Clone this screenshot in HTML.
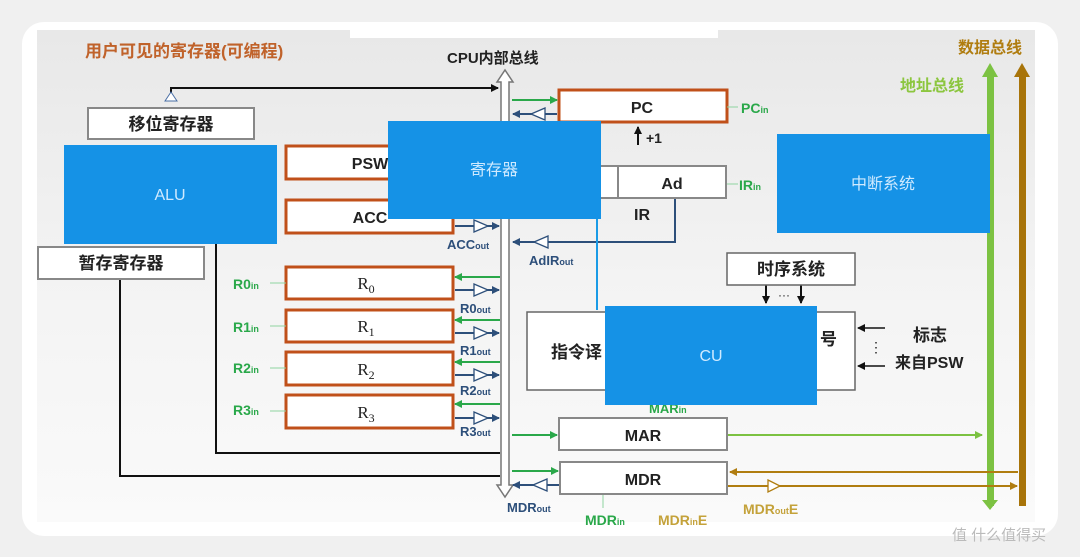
<!DOCTYPE html>
<html><head><meta charset="utf-8"><style>
html,body{margin:0;padding:0;background:#f0f0f0;}
svg{display:block;font-family:"Liberation Sans","Noto Sans CJK SC",sans-serif;}
</style></head><body>
<svg width="1080" height="557" viewBox="0 0 1080 557" xmlns="http://www.w3.org/2000/svg">
<defs>
<linearGradient id="bg" x1="0" y1="0" x2="0" y2="1">
<stop offset="0" stop-color="#e8e8e8"/><stop offset="0.5" stop-color="#f3f3f3"/><stop offset="1" stop-color="#fafafa"/>
</linearGradient>
<marker id="ag" markerWidth="8" markerHeight="8" refX="7" refY="4" orient="auto" markerUnits="userSpaceOnUse"><path d="M0,0L8,4L0,8z" fill="#2aa84a"/></marker>
<marker id="ab" markerWidth="8" markerHeight="8" refX="7" refY="4" orient="auto" markerUnits="userSpaceOnUse"><path d="M0,0L8,4L0,8z" fill="#2d4f7a"/></marker>
<marker id="ak" markerWidth="8" markerHeight="8" refX="7" refY="4" orient="auto" markerUnits="userSpaceOnUse"><path d="M0,0L8,4L0,8z" fill="#111"/></marker>
<marker id="alg" markerWidth="8" markerHeight="8" refX="7" refY="4" orient="auto" markerUnits="userSpaceOnUse"><path d="M0,0L8,4L0,8z" fill="#7cc242"/></marker>
<marker id="abr" markerWidth="8" markerHeight="8" refX="7" refY="4" orient="auto" markerUnits="userSpaceOnUse"><path d="M0,0L8,4L0,8z" fill="#b07d10"/></marker>
</defs>
<rect x="22" y="22" width="1036" height="514" rx="22" fill="#fff"/>
<rect x="37" y="30" width="998" height="492" fill="url(#bg)"/>
<rect x="350" y="30" width="368" height="8" fill="#fff"/>
<text x="85" y="57" font-size="17" font-weight="bold" fill="#c0622a">用户可见的寄存器(可编程)</text>
<text x="447" y="63" font-size="15" font-weight="bold" fill="#222">CPU内部总线</text>
<text x="958" y="53" font-size="16" font-weight="bold" fill="#b07d10">数据总线</text>
<text x="900" y="91" font-size="16" font-weight="bold" fill="#8cc63f">地址总线</text>
<rect x="987" y="76" width="7" height="430" fill="#7cc242"/><path d="M982,77L990,63L998,77z" fill="#7cc242"/>
<path d="M982,500L990,510L998,500z" fill="#7cc242"/>
<rect x="1019" y="76" width="7" height="430" fill="#a8740a"/><path d="M1014,77L1022,63L1030,77z" fill="#a8740a"/>
<path d="M501,82 L497,82 L505,70 L513,82 L509,82 L509,485 L513,485 L505,497 L497,485 L501,485 Z" fill="#fff" stroke="#777" stroke-width="1.5"/>
<polyline points="171,100 171,88 498,88" fill="none" stroke="#111" stroke-width="2" marker-end="url(#ak)"/>
<path d="M165,101L171,92L177,101z" fill="#fff" stroke="#4a6fa5"/>
<polyline points="216,244 216,453 500,453" fill="none" stroke="#111" stroke-width="2"/>
<polyline points="120,279 120,476 500,476" fill="none" stroke="#111" stroke-width="2"/>
<rect x="88" y="108" width="166" height="31" fill="#fff" stroke="#888" stroke-width="2"/>
<text x="171" y="130" font-size="17" font-weight="bold" text-anchor="middle" fill="#222">移位寄存器</text>
<rect x="38" y="247" width="166" height="32" fill="#fff" stroke="#888" stroke-width="2"/>
<text x="121" y="269" font-size="17" font-weight="bold" text-anchor="middle" fill="#222">暂存寄存器</text>
<g fill="#fff" stroke="#c0501a" stroke-width="3">
<rect x="286" y="146" width="167" height="33"/><rect x="286" y="200" width="167" height="33"/>
<rect x="286" y="267" width="167" height="32"/><rect x="286" y="310" width="167" height="32"/>
<rect x="286" y="352" width="167" height="33"/><rect x="286" y="395" width="167" height="33"/>
<rect x="559" y="90" width="168" height="32"/>
</g>
<text x="370" y="169" font-size="16" font-weight="bold" text-anchor="middle" fill="#222">PSW</text>
<text x="370" y="223" font-size="16" font-weight="bold" text-anchor="middle" fill="#222">ACC</text>
<g font-family="Liberation Serif,serif" font-size="17" text-anchor="middle" fill="#222">
<text x="366" y="289">R<tspan font-size="12" dy="4">0</tspan></text>
<text x="366" y="332">R<tspan font-size="12" dy="4">1</tspan></text>
<text x="366" y="375">R<tspan font-size="12" dy="4">2</tspan></text>
<text x="366" y="418">R<tspan font-size="12" dy="4">3</tspan></text>
</g>
<g font-size="14" fill="#2aa84a" font-weight="bold">
<text x="233" y="289">R0<tspan font-size="9">in</tspan></text>
<text x="233" y="332">R1<tspan font-size="9">in</tspan></text>
<text x="233" y="373">R2<tspan font-size="9">in</tspan></text>
<text x="233" y="415">R3<tspan font-size="9">in</tspan></text>
<text x="741" y="113">PC<tspan font-size="9">in</tspan></text>
<text x="739" y="190">IR<tspan font-size="9">in</tspan></text>
<text x="585" y="525">MDR<tspan font-size="9">in</tspan></text>
</g>
<g stroke="#8fd4a0" stroke-width="1"><line x1="270" y1="283" x2="286" y2="283"/><line x1="270" y1="326" x2="286" y2="326"/><line x1="270" y1="368" x2="286" y2="368"/><line x1="270" y1="411" x2="286" y2="411"/><line x1="727" y1="107" x2="738" y2="107"/><line x1="727" y1="184" x2="738" y2="184"/><line x1="603" y1="494" x2="603" y2="508"/></g>
<g stroke-width="2" fill="none">
<line x1="500" y1="277" x2="455" y2="277" stroke="#2aa84a" marker-end="url(#ag)"/>
<line x1="500" y1="320" x2="455" y2="320" stroke="#2aa84a" marker-end="url(#ag)"/>
<line x1="500" y1="362" x2="455" y2="362" stroke="#2aa84a" marker-end="url(#ag)"/>
<line x1="500" y1="404" x2="455" y2="404" stroke="#2aa84a" marker-end="url(#ag)"/>
<line x1="455" y1="290" x2="499" y2="290" stroke="#2d4f7a" marker-end="url(#ab)"/>
<line x1="455" y1="333" x2="499" y2="333" stroke="#2d4f7a" marker-end="url(#ab)"/>
<line x1="455" y1="375" x2="499" y2="375" stroke="#2d4f7a" marker-end="url(#ab)"/>
<line x1="455" y1="418" x2="499" y2="418" stroke="#2d4f7a" marker-end="url(#ab)"/>
<line x1="455" y1="226" x2="499" y2="226" stroke="#2d4f7a" marker-end="url(#ab)"/>
<line x1="512" y1="100" x2="557" y2="100" stroke="#2aa84a" marker-end="url(#ag)"/>
<line x1="557" y1="114" x2="513" y2="114" stroke="#2d4f7a" marker-end="url(#ab)"/>
<polyline points="675,198 675,242 513,242" stroke="#2d4f7a" marker-end="url(#ab)"/>
<line x1="512" y1="435" x2="557" y2="435" stroke="#2aa84a" marker-end="url(#ag)"/>
<line x1="512" y1="471" x2="558" y2="471" stroke="#2aa84a" marker-end="url(#ag)"/>
<line x1="560" y1="485" x2="513" y2="485" stroke="#2d4f7a" marker-end="url(#ab)"/>
<line x1="728" y1="435" x2="982" y2="435" stroke="#7cc242" marker-end="url(#alg)"/>
<line x1="1018" y1="472" x2="730" y2="472" stroke="#b07d10" marker-end="url(#abr)"/>
<line x1="728" y1="486" x2="1017" y2="486" stroke="#b07d10" marker-end="url(#abr)"/>
<line x1="597" y1="215" x2="597" y2="310" stroke="#1a9be6"/>
<line x1="638" y1="145" x2="638" y2="127" stroke="#111" marker-end="url(#ak)"/>
<line x1="766" y1="285" x2="766" y2="303" stroke="#111" marker-end="url(#ak)"/>
<line x1="801" y1="285" x2="801" y2="303" stroke="#111" marker-end="url(#ak)"/>
<line x1="885" y1="328" x2="858" y2="328" stroke="#111" stroke-width="1.5" marker-end="url(#ak)"/>
<line x1="885" y1="366" x2="858" y2="366" stroke="#111" stroke-width="1.5" marker-end="url(#ak)"/>
</g>
<g fill="#fff" stroke="#2d4f7a" stroke-width="1.3">
<path d="M474,284L488,290L474,296z"/><path d="M474,327L488,333L474,339z"/><path d="M474,369L488,375L474,381z"/><path d="M474,412L488,418L474,424z"/><path d="M474,220L488,226L474,232z"/>
<path d="M545,108L531,114L545,120z"/><path d="M548,236L534,242L548,248z"/><path d="M547,479L533,485L547,491z"/>
</g>
<path d="M768,480L780,486L768,492z" fill="#fff" stroke="#b07d10" stroke-width="1.3"/>
<g font-size="13" fill="#2d4f7a" font-weight="bold">
<text x="460" y="313">R0<tspan font-size="9">out</tspan></text>
<text x="460" y="355">R1<tspan font-size="9">out</tspan></text>
<text x="460" y="395">R2<tspan font-size="9">out</tspan></text>
<text x="460" y="436">R3<tspan font-size="9">out</tspan></text>
<text x="447" y="249">ACC<tspan font-size="9">out</tspan></text>
<text x="529" y="265">AdIR<tspan font-size="9">out</tspan></text>
<text x="507" y="512">MDR<tspan font-size="9">out</tspan></text>
</g>
<text x="658" y="525" font-size="14" font-weight="bold" fill="#c4a23a">MDR<tspan font-size="9">in</tspan>E</text>
<text x="743" y="514" font-size="14" font-weight="bold" fill="#c4a23a">MDR<tspan font-size="9">out</tspan>E</text>
<text x="642" y="113" font-size="16" font-weight="bold" text-anchor="middle" fill="#222">PC</text>
<text x="646" y="143" font-size="14" font-weight="bold" fill="#222">+1</text>
<rect x="600" y="166" width="126" height="32" fill="#fff" stroke="#888" stroke-width="2"/>
<line x1="618" y1="166" x2="618" y2="198" stroke="#888" stroke-width="2"/>
<text x="672" y="189" font-size="16" font-weight="bold" text-anchor="middle" fill="#222">Ad</text>
<text x="642" y="220" font-size="16" font-weight="bold" text-anchor="middle" fill="#222">IR</text>
<rect x="727" y="253" width="128" height="32" fill="#fff" stroke="#666" stroke-width="1.5"/>
<text x="791" y="275" font-size="17" font-weight="bold" text-anchor="middle" fill="#222">时序系统</text>
<text x="784" y="299" font-size="12" text-anchor="middle" fill="#222">···</text>
<rect x="527" y="312" width="328" height="78" fill="#fff" stroke="#666" stroke-width="1.5"/>
<text x="551" y="358" font-size="17" font-weight="bold" fill="#222">指令译</text>
<text x="820" y="345" font-size="17" font-weight="bold" fill="#222">号</text>
<text x="913" y="341" font-size="17" font-weight="bold" fill="#222">标志</text>
<text x="895" y="368" font-size="16" font-weight="bold" fill="#222">来自PSW</text>
<text x="869" y="352" font-size="14" fill="#222">⋮</text>
<rect x="559" y="418" width="168" height="32" fill="#fff" stroke="#888" stroke-width="2"/>
<text x="643" y="441" font-size="16" font-weight="bold" text-anchor="middle" fill="#222">MAR</text>
<rect x="560" y="462" width="167" height="32" fill="#fff" stroke="#888" stroke-width="2"/>
<text x="643" y="485" font-size="16" font-weight="bold" text-anchor="middle" fill="#222">MDR</text>
<text x="649" y="413" font-size="13" font-weight="bold" fill="#2aa84a">MAR<tspan font-size="9">in</tspan></text>
<g fill="#1592e6">
<rect x="64" y="145" width="213" height="99"/>
<rect x="388" y="121" width="213" height="98"/>
<rect x="777" y="134" width="213" height="99"/>
<rect x="605" y="306" width="212" height="99"/>
</g>
<g fill="#cfeaff" font-size="16" text-anchor="middle">
<text x="170" y="200">ALU</text>
<text x="494" y="175">寄存器</text>
<text x="883" y="189">中断系统</text>
<text x="711" y="361">CU</text>
</g>
<text x="952" y="540" font-size="15" fill="#bbb">值 什么值得买</text>
</svg>
</body></html>
